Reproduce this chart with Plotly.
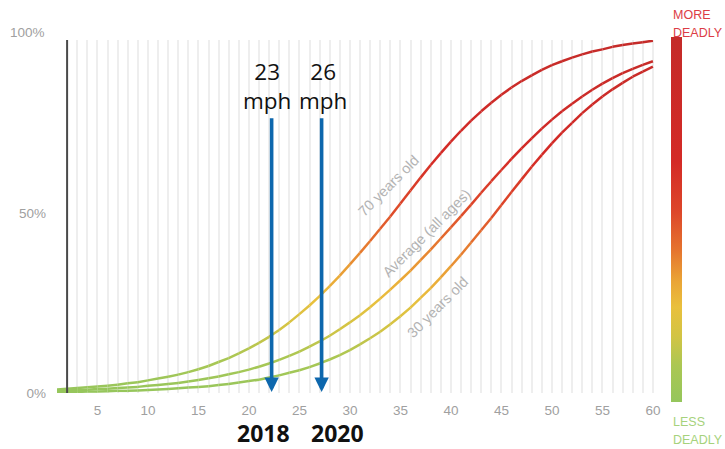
import plotly.graph_objects as go
from plotly.colors import sample_colorscale

# ---------------- data ----------------
speed_mph = list(range(1, 61))

risk_70yo = [1.0, 1.2, 1.4, 1.6, 1.8, 2.0, 2.3, 2.7, 3.0, 3.5, 4.0, 4.5, 5.1, 5.8, 6.6,
             7.5, 8.6, 9.7, 11.0, 12.4, 13.9, 15.6, 17.5, 19.6, 21.9, 24.3, 26.9, 29.7, 32.6, 35.7,
             38.9, 42.2, 45.6, 49.0, 52.6, 56.2, 59.8, 63.3, 66.6, 69.8, 72.8, 75.6, 78.2, 80.6, 82.8,
             84.8, 86.6, 88.2, 89.7, 91.0, 92.1, 93.1, 94.0, 94.8, 95.4, 96.1, 96.6, 97.0, 97.4, 97.8]

risk_avg = [0.7, 0.7, 0.8, 0.9, 1.1, 1.2, 1.4, 1.5, 1.7, 2.0, 2.2, 2.5, 2.8, 3.2, 3.6,
            4.1, 4.6, 5.2, 5.8, 6.5, 7.3, 8.2, 9.2, 10.3, 11.5, 12.9, 14.3, 15.9, 17.7, 19.6,
            21.6, 23.8, 26.2, 28.7, 31.3, 34.0, 36.9, 39.8, 42.9, 46.0, 49.1, 52.3, 55.6, 58.8, 61.9,
            65.0, 67.9, 70.7, 73.4, 75.9, 78.2, 80.3, 82.3, 84.2, 85.9, 87.4, 88.8, 90.0, 91.1, 92.1]

risk_30yo = [0.3, 0.3, 0.3, 0.4, 0.4, 0.5, 0.6, 0.6, 0.7, 0.8, 1.0, 1.1, 1.3, 1.5, 1.7,
             1.9, 2.2, 2.5, 2.9, 3.3, 3.7, 4.3, 4.9, 5.6, 6.3, 7.2, 8.2, 9.3, 10.5, 11.9,
             13.5, 15.2, 17.0, 19.1, 21.3, 23.7, 26.4, 29.1, 32.1, 35.2, 38.4, 41.8, 45.2, 48.6, 52.2,
             55.8, 59.3, 62.8, 66.1, 69.3, 72.3, 75.0, 77.7, 80.1, 82.3, 84.3, 86.1, 87.8, 89.2, 90.6]

curve_labels = ["70 years old", "Average (all ages)", "30 years old"]

ref_line_x = 2
arrow_x = [22.25, 27.2]
arrow_top = 76.7
arrow_tip = 0.3
speed_labels = ["23", "26"]
year_labels = ["2018", "2020"]

x_tick_vals = list(range(1, 62))
y_tick_vals = [0, 50]
y_max_label = 100

# ---------------- style ----------------
colorscale = [
    [0.00, "#95c65c"],
    [0.10, "#abc753"],
    [0.18, "#d2c444"],
    [0.26, "#e9c03d"],
    [0.33, "#eaa536"],
    [0.42, "#e5722e"],
    [0.52, "#dd472a"],
    [0.66, "#d42a26"],
    [1.00, "#c42b29"],
]
Y_RANGE = [0, 98]

fig = go.Figure()

for ys in (risk_70yo, risk_avg, risk_30yo):
    for i in range(len(speed_mph) - 1):
        mid = (ys[i] + ys[i + 1]) / 2 / 100
        col = sample_colorscale(colorscale, [min(max(mid, 0), 1)])[0]
        fig.add_trace(go.Scatter(
            x=[speed_mph[i], speed_mph[i + 1]], y=[ys[i], ys[i + 1]],
            mode="lines", line=dict(color=col, width=2.5),
            hoverinfo="skip", showlegend=False))

# colour bar (less deadly -> more deadly)
fig.add_trace(go.Scatter(
    x=[ref_line_x], y=[0], mode="markers",
    marker=dict(size=0.1, opacity=0, color=[0], cmin=0, cmax=1,
                colorscale=colorscale, showscale=True,
                colorbar=dict(thickness=11, thicknessmode="pixels",
                              len=365, lenmode="pixels",
                              x=1.013, xanchor="left", xpad=0,
                              y=1.0085, yanchor="top", ypad=0,
                              outlinewidth=0, showticklabels=False, ticks="")),
    hoverinfo="skip", showlegend=False))

# vertical reference line
fig.add_shape(type="line", xref="x", yref="paper", x0=ref_line_x, x1=ref_line_x,
              y0=0, y1=1, line=dict(color="#4a4a4a", width=2))

annotations = []
# arrows + labels
label_shift = [-5, 1]
year_shift = [-8.5, 15.7]
for ax_, sp, yr, ls, ys_ in zip(arrow_x, speed_labels, year_labels, label_shift, year_shift):
    annotations.append(dict(x=ax_, y=arrow_tip, ax=ax_, ay=arrow_top, xref="x", yref="y",
                            axref="x", ayref="y", text="", showarrow=True,
                            arrowhead=2, arrowsize=0.8, arrowwidth=3.6,
                            arrowcolor="#0d67ad", standoff=0, startstandoff=0))
    annotations.append(dict(x=ax_, y=85.3, xref="x", yref="y", xshift=ls,
                            text=f"{sp}<br>mph", showarrow=False,
                            font=dict(family="Open Sans", size=22.5, color="#111111"),
                            xanchor="center", yanchor="middle"))
    annotations.append(dict(x=ax_, y=-0.1147, xref="x", yref="paper", xshift=ys_,
                            text=f"<b>{yr}</b>", showarrow=False,
                            font=dict(family="Open Sans", size=23, color="#111111"),
                            xanchor="center", yanchor="middle"))

# curve labels
lab_pos = [(33.8, 57.5), (37.6, 44.4), (38.7, 23.9)]
for txt, (lx, ly) in zip(curve_labels, lab_pos):
    annotations.append(dict(x=lx, y=ly, xref="x", yref="y", text=txt, showarrow=False,
                            textangle=-45,
                            font=dict(family="Liberation Sans", size=14.5, color="#b3b3b3")))

# 100% tick label (above the drawn range)
annotations.append(dict(x=-0.0165, y=y_max_label / Y_RANGE[1], xref="paper", yref="paper",
                        text=f"{y_max_label}%",
                        showarrow=False, xanchor="right", yanchor="middle",
                        font=dict(family="Liberation Sans", size=13.5, color="#a0a0a0")))

# colour bar captions
cap = dict(family="Liberation Sans", size=12.5)
annotations += [
    dict(x=1.013, y=1.0708, xref="paper", yref="paper", text="MORE", showarrow=False,
         xanchor="left", yanchor="middle", font=dict(cap, color="#dc3c46")),
    dict(x=1.013, y=1.0198, xref="paper", yref="paper", text="DEADLY", showarrow=False,
         xanchor="left", yanchor="middle", font=dict(cap, color="#dc3c46")),
    dict(x=1.013, y=-0.0822, xref="paper", yref="paper", text="LESS", showarrow=False,
         xanchor="left", yanchor="middle", font=dict(cap, color="#a6d27c")),
    dict(x=1.013, y=-0.1331, xref="paper", yref="paper", text="DEADLY", showarrow=False,
         xanchor="left", yanchor="middle", font=dict(cap, color="#a6d27c")),
]

fig.update_layout(
    width=725, height=449,
    margin=dict(l=57, r=62, t=40, b=56),
    paper_bgcolor="white", plot_bgcolor="white",
    showlegend=False,
    annotations=annotations,
    xaxis=dict(range=[1, 61], tickmode="array", tickvals=x_tick_vals,
               ticktext=[str(v) if v % 5 == 0 else "" for v in x_tick_vals],
               showgrid=True, gridcolor="#eeeeee", gridwidth=1.5,
               zeroline=False, showline=False, ticks="", ticklabelstandoff=7,
               tickfont=dict(family="Liberation Sans", size=13.5, color="#a0a0a0")),
    yaxis=dict(range=Y_RANGE, tickmode="array", tickvals=y_tick_vals,
               ticktext=[f"{v}%" for v in y_tick_vals],
               showgrid=False, zeroline=False, showline=False, ticks="",
               ticklabelstandoff=10,
               tickfont=dict(family="Liberation Sans", size=13.5, color="#a0a0a0")),
)

fig.write_html("out.html", config={"displayModeBar": False},
               post_script="document.body.style.margin='0px';")
